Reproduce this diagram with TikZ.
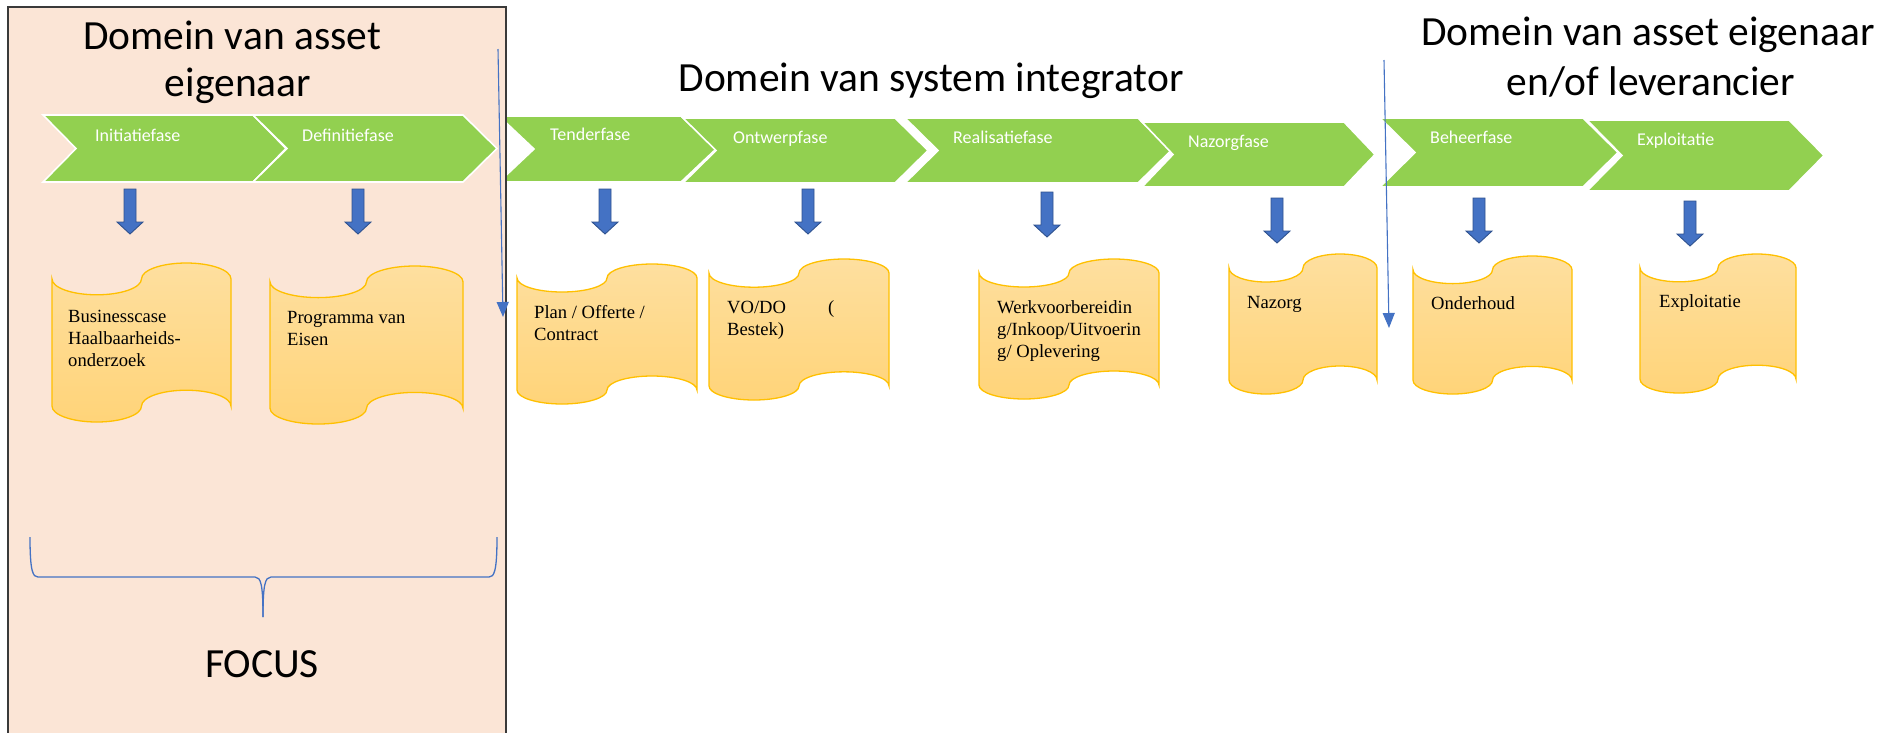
\documentclass[tikz,border=0pt]{standalone}
\usepackage{fontspec}
\setmainfont{Liberation Serif}
\newfontfamily\carl{Carlito}
\usetikzlibrary{arrows.meta}
\definecolor{pinkbg}{HTML}{FBE5D6}
\definecolor{chevgreen}{HTML}{92D050}
\definecolor{arrowblue}{HTML}{4472C4}
\definecolor{arrowedge}{HTML}{2F528F}
\definecolor{doctop}{HTML}{FEDF9F}
\definecolor{docbot}{HTML}{FFD479}
\definecolor{docedge}{HTML}{FFC000}
\definecolor{frameedge}{HTML}{3A3A3A}
\tikzset{
  chevshape/.style={fill=chevgreen, draw=white, line width=1.6pt, line join=miter},
  chevtext/.style={text=white, font=\carl\fontsize{18}{21}\selectfont, inner sep=0pt, anchor=base west},
  docshape/.style={draw=docedge, line width=1.3pt, top color=doctop, bottom color=docbot},
  doctext/.style={font=\fontsize{18.6}{22.4}\selectfont, inner sep=0pt, anchor=base west},
  blockarrow/.style={fill=arrowblue, draw=arrowedge, line width=0.9pt, line join=miter},
  titletext/.style={font=\carl\fontsize{41.5}{48}\selectfont, inner sep=0pt, anchor=base},
  guide/.style={draw=arrowblue, line width=1.1pt, -{Triangle[length=15pt,width=12pt]}},
  bracestyle/.style={draw=arrowblue, line width=1.3pt},
  framebox/.style={fill=pinkbg, draw=frameedge, line width=1.3pt},
}
% name, xl, xr, yt, yb, depth, text x, baseline, text
\newcommand\chevron[9]{%
  \path[chevshape] (#2,#4) -- (#3,#4) -- (#3+#6,{(#4+#5)/2}) -- (#3,#5) -- (#2,#5) -- (#2+#6,{(#4+#5)/2}) -- cycle;
  \node[chevtext] (#1) at (#7,#8) {#9};
}
% name, l, t, r, b, text x, baseline, text
\newcommand\tapedoc[8]{%
  \pgfmathsetmacro\tA{(#4-#2)/4}%
  \pgfmathsetmacro\tE{(#5-#3)/10}%
  \pgfmathsetmacro\tKa{0.5523*\tA}%
  \pgfmathsetmacro\tKe{0.5523*\tE}%
  \pgfmathsetmacro\tYa{#3+\tE}%
  \pgfmathsetmacro\tYb{#5-\tE}%
  \path[docshape] (#2,\tYa)
    .. controls (#2,\tYa+\tKe) and (#2+\tA-\tKa,\tYa+\tE) .. (#2+\tA,\tYa+\tE)
    .. controls (#2+\tA+\tKa,\tYa+\tE) and (#2+2*\tA,\tYa+\tKe) .. (#2+2*\tA,\tYa)
    .. controls (#2+2*\tA,\tYa-\tKe) and (#2+3*\tA-\tKa,\tYa-\tE) .. (#2+3*\tA,\tYa-\tE)
    .. controls (#2+3*\tA+\tKa,\tYa-\tE) and (#4,\tYa-\tKe) .. (#4,\tYa)
    -- (#4,\tYb)
    .. controls (#4,\tYb-\tKe) and (#4-\tA+\tKa,\tYb-\tE) .. (#4-\tA,\tYb-\tE)
    .. controls (#4-\tA-\tKa,\tYb-\tE) and (#4-2*\tA,\tYb-\tKe) .. (#4-2*\tA,\tYb)
    .. controls (#4-2*\tA,\tYb+\tKe) and (#2+\tA+\tKa,\tYb+\tE) .. (#2+\tA,\tYb+\tE)
    .. controls (#2+\tA-\tKa,\tYb+\tE) and (#2,\tYb+\tKe) .. (#2,\tYb)
    -- cycle;
  \node[doctext] (#1) at (#6,#7) {\parbox[t]{220pt}{\raggedright #8}};
}
% name, cx, top, tip
\newcommand\blockdown[4]{%
  \coordinate (#1) at (#2,#3);
  \path[blockarrow] (#2-6,#3) -- (#2+6,#3) -- (#2+6,#4-12) -- (#2+13,#4-12) -- (#2,#4) -- (#2-13,#4-12) -- (#2-6,#4-12) -- cycle;
}
\begin{document}
\begin{tikzpicture}[x=1pt,y=-1pt]
\useasboundingbox (0,0) rectangle (1894,732);
\fill[white] (0,0) rectangle (1894,732);
% Tenderfase first (partly under the focus frame)
\chevron{c3}{499}{681}{116}{182}{35}{550}{140}{Tenderfase}
% focus frame
\path[framebox] (8,7) rectangle (506,745);
\chevron{c1}{43}{253}{115}{182}{33}{95}{141}{Initiatiefase}
\chevron{c2}{253}{463}{115}{182}{34}{302}{141}{Definitiefase}
\chevron{c4}{683}{895}{118}{183}{33}{733}{143}{Ontwerpfase}
\chevron{c5}{905}{1138}{118}{183}{33}{953}{143}{Realisatiefase}
\chevron{c6}{1142}{1344}{122}{187}{31}{1188}{147}{Nazorgfase}
\chevron{c7}{1380}{1583}{118}{187}{35}{1430}{143}{Beheerfase}
\chevron{c8}{1587}{1789}{120}{191}{35}{1637}{145}{Exploitatie}
% titles
\node[titletext] (t1a) at (232,49) {Domein van asset};
\node[titletext] (t1b) at (238,96) {eigenaar};
\node[titletext] (t2) at (931,91) {Domein van system integrator};
\node[titletext] (t3a) at (1648,45) {Domein van asset eigenaar};
\node[titletext] (t3b) at (1651,95) {en/of leverancier};
% block arrows
\blockdown{a1}{130}{189}{234}
\blockdown{a2}{358}{189}{234}
\blockdown{a3}{605}{189}{234}
\blockdown{a4}{808}{189}{234}
\blockdown{a5}{1047}{192}{237}
\blockdown{a6}{1277}{198}{243}
\blockdown{a7}{1479}{198}{243}
\blockdown{a8}{1690}{201}{246}
% documents
\tapedoc{d1}{52}{263}{231}{422}{68}{322}{Businesscase\\Haalbaarheids-\\onderzoek}
\tapedoc{d2}{270}{266}{463}{424}{287}{323}{Programma van\\Eisen}
\tapedoc{d3}{517}{264}{697}{404}{534}{318}{Plan / Offerte /\\Contract}
\tapedoc{d4}{709}{259}{889}{400}{727}{313}{VO/DO\hspace{42pt}(\\Bestek)}
\tapedoc{d5}{979}{259}{1159}{399}{997}{313}{Werkvoorbereidin\\g/Inkoop/Uitvoerin\\g/ Oplevering}
\tapedoc{d6}{1229}{254}{1377}{394}{1247}{308}{Nazorg}
\tapedoc{d7}{1413}{256}{1572}{394}{1431}{309}{Onderhoud}
\tapedoc{d8}{1640}{254}{1796}{393}{1659}{307}{Exploitatie}
% brace and FOCUS
\coordinate (bl) at (30,537);
\coordinate (br) at (497,537);
\coordinate (bm) at (263,617);
\draw[bracestyle] (bl) .. controls (30,572) and (33,577) .. (38,577) -- (255,577)
  .. controls (261,577) and (263,585) .. (bm);
\draw[bracestyle] (br) .. controls (497,572) and (494,577) .. (489,577) -- (271,577)
  .. controls (265,577) and (263,585) .. (bm);
\node[titletext] (focus) at (262,677) {FOCUS};
% thin domain separators
\coordinate (g1s) at (498,49);
\coordinate (g1e) at (503,317);
\draw[guide] (g1s) -- (g1e);
\coordinate (g2s) at (1384,60);
\coordinate (g2e) at (1389,328);
\draw[guide] (g2s) -- (g2e);
\end{tikzpicture}
\end{document}
